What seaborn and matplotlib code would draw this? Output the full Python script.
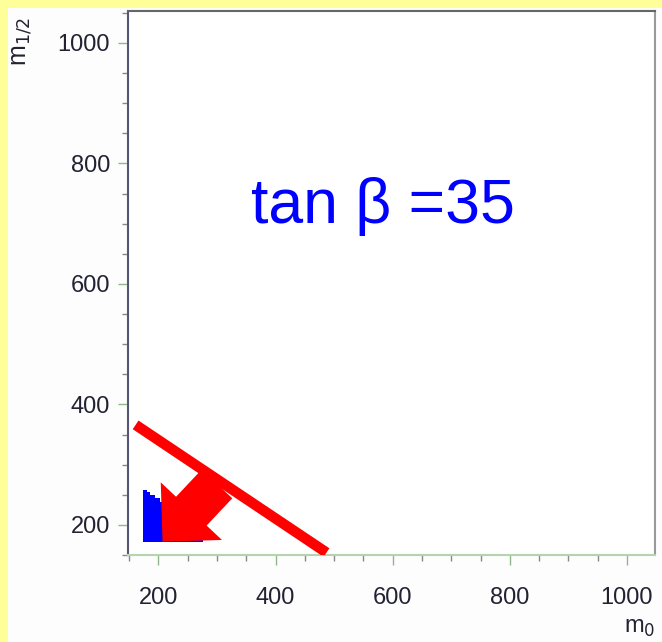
import matplotlib
matplotlib.use("Agg")
import numpy as np
import matplotlib.pyplot as plt
import seaborn as sns
from matplotlib.patches import Polygon, Rectangle
from matplotlib.transforms import IdentityTransform
from matplotlib.ticker import MultipleLocator

# allowed region (blue)
region_m0 = [173, 180, 186, 194, 202, 220, 240, 260, 276]
region_top = [258, 255, 250, 245, 238, 234, 228, 220, 220]
region_bottom = 172

# the red cut line
cut_m0 = [161, 487]
cut_m12 = [366, 154]

# big arrow: tail -> tip, in data units
arrow_tail = (300, 268)
arrow_tip = (207, 172)

x_ticks = [200, 400, 600, 800, 1000]
y_ticks = [200, 400, 600, 800, 1000]
label = "tan \u03b2 =35"


def block_arrow(ax, tail, tip, tail_w=42, head_w=84, head_len=42):
    """Fat arrow drawn in pixel space so it keeps its shape."""
    p0 = ax.transData.transform(tail)
    p1 = ax.transData.transform(tip)
    u = (p1 - p0) / np.hypot(*(p1 - p0))
    n = np.array([-u[1], u[0]])
    base = p1 - u * head_len
    pts = [p0 + n * tail_w / 2, base + n * tail_w / 2, base + n * head_w / 2,
           p1, base - n * head_w / 2, base - n * tail_w / 2, p0 - n * tail_w / 2]
    return Polygon(pts, closed=True, transform=IdentityTransform(),
                   facecolor="#ff0000", edgecolor="none", zorder=4)


sns.set_style("ticks")
plt.rcParams["font.family"] = ["Liberation Sans", "DejaVu Sans"]

fig = plt.figure(figsize=(6.62, 6.42), dpi=100)
fig.patch.set_facecolor("#fdfdfd")
# yellow slide border along top and left
fig.patches.append(Rectangle((0, 0), 8 / 662, 1, transform=fig.transFigure,
                             facecolor="#ffff99", edgecolor="none", zorder=0))
fig.patches.append(Rectangle((0, 1 - 8 / 642), 1, 8 / 642, transform=fig.transFigure,
                             facecolor="#ffff99", edgecolor="none", zorder=0))

ax = fig.add_axes([128 / 662, 87 / 642, 527 / 662, 544 / 642])
ax.set_facecolor("white")
ax.set_xlim(148, 1048)
ax.set_ylim(150, 1053)

ax.fill_between(region_m0, region_bottom, region_top, step="post",
                color="#0000ff", linewidth=0, zorder=2)

sns.lineplot(x=cut_m0, y=cut_m12, color="#ff0000", linewidth=7.5,
             ax=ax, zorder=3, solid_capstyle="butt")

ax.add_patch(block_arrow(ax, arrow_tail, arrow_tip))

ax.text(358, 701, label, color="#0000ff", fontsize=45, ha="left", va="baseline")

ax.set_xticks(x_ticks)
ax.set_yticks(y_ticks)
ax.xaxis.set_minor_locator(MultipleLocator(50))
ax.yaxis.set_minor_locator(MultipleLocator(50))
ax.tick_params(axis="both", which="major", labelsize=17, colors="#222233",
               length=7, width=1)
ax.tick_params(axis="x", which="major", pad=16, color="#8fb88a")
ax.tick_params(axis="y", which="major", pad=6, color="#8fb88a")
ax.tick_params(axis="both", which="minor", length=4, width=1, color="#888888")

for side in ["top", "right", "left", "bottom"]:
    ax.spines[side].set_visible(True)
    ax.spines[side].set_linewidth(1.5)
ax.spines["left"].set_color("#555577")
ax.spines["top"].set_color("#666666")
ax.spines["right"].set_color("#999999")
ax.spines["bottom"].set_color("#b5d3ad")

ax.set_xlabel("")
ax.set_ylabel("")
fig.text(655 / 662, 1 - 628 / 642, r"m$_0$", fontsize=17, color="#222233",
         ha="right", va="center")
fig.text(22 / 662, 1 - 42 / 642, r"m$_{1/2}$", fontsize=18, color="#222233",
         ha="center", va="center", rotation=90)

fig.savefig("out.png", dpi=100, facecolor=fig.get_facecolor())
